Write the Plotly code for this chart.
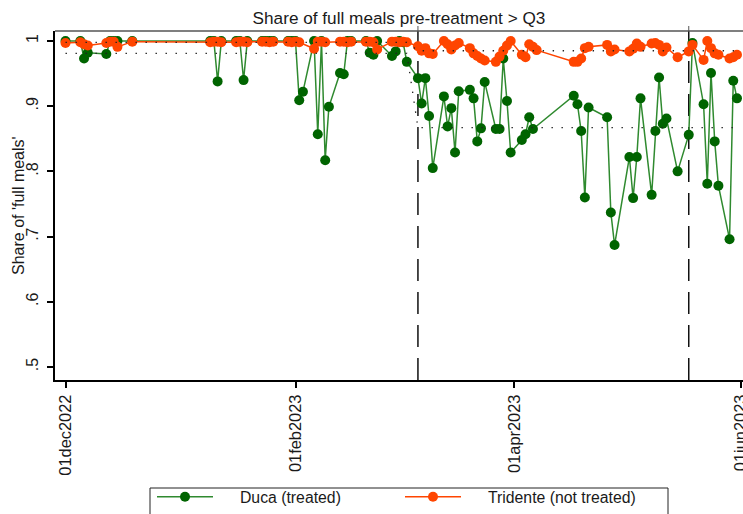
import plotly.graph_objects as go

# ---------------- data ----------------
duca_dates = [
    "2022-12-01", "2022-12-05", "2022-12-06", "2022-12-07", "2022-12-12", "2022-12-13", "2022-12-14", "2022-12-15",
    "2022-12-19", "2023-01-09", "2023-01-10", "2023-01-11", "2023-01-12", "2023-01-16", "2023-01-17", "2023-01-18",
    "2023-01-19", "2023-01-23", "2023-01-24", "2023-01-25", "2023-01-26", "2023-01-30", "2023-01-31", "2023-02-01",
    "2023-02-02", "2023-02-03", "2023-02-06", "2023-02-07", "2023-02-08", "2023-02-09", "2023-02-10", "2023-02-13",
    "2023-02-14", "2023-02-15", "2023-02-16", "2023-02-20", "2023-02-21", "2023-02-22", "2023-02-23", "2023-02-27",
    "2023-02-28", "2023-03-01", "2023-03-02", "2023-03-03",
    "2023-03-06", "2023-03-07", "2023-03-08", "2023-03-09", "2023-03-10", "2023-03-13", "2023-03-14", "2023-03-15",
    "2023-03-16", "2023-03-17", "2023-03-20", "2023-03-21", "2023-03-22", "2023-03-23", "2023-03-24", "2023-03-27",
    "2023-03-28", "2023-03-29", "2023-03-30", "2023-03-31", "2023-04-03", "2023-04-04", "2023-04-05", "2023-04-06",
    "2023-04-17", "2023-04-18", "2023-04-19", "2023-04-20", "2023-04-21", "2023-04-26", "2023-04-27", "2023-04-28",
    "2023-05-02", "2023-05-03", "2023-05-04", "2023-05-05", "2023-05-08", "2023-05-09", "2023-05-10", "2023-05-11",
    "2023-05-12", "2023-05-15", "2023-05-18", "2023-05-19", "2023-05-22", "2023-05-23", "2023-05-24", "2023-05-25",
    "2023-05-26", "2023-05-29", "2023-05-30", "2023-05-31",
]
duca_share = [
    1.000, 1.000, 0.973, 0.982, 0.980, 1.000, 1.000, 1.000,
    1.000, 1.000, 1.000, 0.938, 1.000, 1.000, 1.000, 0.940,
    1.000, 1.000, 1.000, 1.000, 1.000, 1.000, 1.000, 1.000,
    0.909, 0.922, 1.000, 0.857, 1.000, 0.817, 0.899, 0.951,
    0.949, 1.000, 1.000, 1.000, 0.982, 0.979, 1.000, 0.977,
    0.984, 1.000, 0.998, 0.968,
    0.943, 0.904, 0.943, 0.885, 0.805, 0.915, 0.869, 0.897,
    0.829, 0.923, 0.925, 0.912, 0.846, 0.866, 0.937, 0.865,
    0.865, 0.973, 0.908, 0.829, 0.848, 0.857, 0.883, 0.865,
    0.916, 0.903, 0.862, 0.760, 0.898, 0.883, 0.737, 0.687,
    0.822, 0.759, 0.822, 0.912, 0.764, 0.862, 0.944, 0.873,
    0.881, 0.800, 0.856, 0.997, 0.903, 0.781, 0.951, 0.846,
    0.778, 0.696, 0.939, 0.912,
]

tridente_dates = [
    "2022-12-01", "2022-12-05", "2022-12-06", "2022-12-07", "2022-12-12", "2022-12-13", "2022-12-14", "2022-12-15",
    "2022-12-19", "2023-01-09", "2023-01-10", "2023-01-11", "2023-01-12", "2023-01-16", "2023-01-17", "2023-01-18",
    "2023-01-19", "2023-01-23", "2023-01-24", "2023-01-25", "2023-01-26", "2023-01-30", "2023-01-31", "2023-02-01",
    "2023-02-02", "2023-02-06", "2023-02-07", "2023-02-08", "2023-02-09", "2023-02-13", "2023-02-14", "2023-02-15",
    "2023-02-16", "2023-02-20", "2023-02-21", "2023-02-22", "2023-02-23", "2023-02-27", "2023-02-28", "2023-03-01",
    "2023-03-02", "2023-03-03",
    "2023-03-06", "2023-03-07", "2023-03-08", "2023-03-09", "2023-03-10", "2023-03-13", "2023-03-14", "2023-03-15",
    "2023-03-16", "2023-03-17", "2023-03-20", "2023-03-21", "2023-03-22", "2023-03-23", "2023-03-24", "2023-03-27",
    "2023-03-28", "2023-03-29", "2023-03-30", "2023-03-31", "2023-04-03", "2023-04-04", "2023-04-05", "2023-04-06",
    "2023-04-07", "2023-04-17", "2023-04-18", "2023-04-19", "2023-04-20", "2023-04-21", "2023-04-26", "2023-04-27",
    "2023-04-28", "2023-05-02", "2023-05-03", "2023-05-04", "2023-05-05", "2023-05-08", "2023-05-09", "2023-05-10",
    "2023-05-11", "2023-05-12", "2023-05-15", "2023-05-18", "2023-05-19", "2023-05-22", "2023-05-23", "2023-05-24",
    "2023-05-25", "2023-05-26", "2023-05-29", "2023-05-30", "2023-05-31",
]
tridente_share = [
    0.997, 0.998, 0.995, 0.993, 0.997, 0.999, 0.999, 0.991,
    0.999, 0.998, 0.999, 0.999, 0.998, 0.998, 0.999, 0.999,
    0.998, 0.999, 0.999, 0.998, 0.999, 0.999, 0.998, 0.999,
    0.998, 0.988, 0.999, 0.999, 0.998, 0.999, 0.999, 0.998,
    0.999, 0.999, 0.999, 0.998, 0.987, 0.999, 0.999, 0.998,
    0.999, 0.998,
    0.992, 0.985, 0.989, 0.981, 0.980, 1.000, 0.995, 0.987,
    0.993, 0.997, 0.989, 0.981, 0.977, 0.973, 0.970, 0.968,
    0.976, 0.985, 0.993, 1.000, 0.979, 0.975, 0.995, 0.991,
    0.986, 0.968, 0.968, 0.973, 0.989, 0.991, 0.994, 0.984,
    0.987, 0.984, 0.988, 0.996, 0.991, 0.996, 0.997, 0.994,
    0.984, 0.990, 0.975, 0.984, 0.994, 0.971, 1.000, 0.989,
    0.981, 0.979, 0.973, 0.975, 0.979,
]

treatment_start = "2023-03-06"
treatment_lines = ["2023-03-06", "2023-05-18"]
duca_pre_mean, duca_post_mean = 0.981, 0.867
tridente_pre_mean, tridente_post_mean = 0.998, 0.985

x_tick_vals = ["2022-12-01", "2023-02-01", "2023-04-01", "2023-06-01"]
x_tick_text = ["01dec2022", "01feb2023", "01apr2023", "01jun2023"]
y_tick_vals = [0.5, 0.6, 0.7, 0.8, 0.9, 1.0]
y_tick_text = [".5", ".6", ".7", ".8", ".9", "1"]
x_range = ["2022-11-28 04:00", "2023-06-01 15:00"]
y_range = [0.480, 1.0153]

title_text = "Share of full meals pre-treatment > Q3"
y_title = "Share of 'full meals'"
legend_names = ["Duca (treated)", "Tridente (not treated)"]
PAD = "\u00a0" * 5  # visual gap between legend key and its label

FONT = "Liberation Sans, Arial, sans-serif"
GREEN_M, GREEN_L = "#006400", "#2f8a2f"
ORANGE = "#ff4500"
TXT = "#1a1a1a"

# plot-area geometry (pixels) used only for placing layout furniture
L, T, B, W, H = 55, 31, 134, 743, 514
PW, PH = W - L, H - T - B

duca_mean = [duca_pre_mean if d < treatment_start else duca_post_mean for d in duca_dates]
tridente_mean = [tridente_pre_mean if d < treatment_start else tridente_post_mean for d in tridente_dates]

fig = go.Figure()
fig.add_trace(go.Scatter(
    x=duca_dates, y=duca_share, mode="lines+markers", name=PAD + legend_names[0],
    line=dict(color=GREEN_L, width=1.5),
    marker=dict(color=GREEN_M, size=10, line=dict(width=0)),
))
fig.add_trace(go.Scatter(
    x=tridente_dates, y=tridente_share, mode="lines+markers", name=PAD + legend_names[1],
    line=dict(color=ORANGE, width=1.5),
    marker=dict(color=ORANGE, size=10, line=dict(width=0)),
))
for dts, mv in ((duca_dates, duca_mean), (tridente_dates, tridente_mean)):
    fig.add_trace(go.Scatter(
        x=dts, y=mv, mode="lines", showlegend=False, hoverinfo="skip",
        line=dict(color="#222222", width=1.3, dash="1.4px,8.6px"),
    ))

shapes = []
for d in treatment_lines:
    shapes.append(dict(type="line", xref="x", yref="paper", x0=d, x1=d, y0=0, y1=1,
                       line=dict(color="#111111", width=1.5, dash="22px,11px"), layer="below"))
    shapes.append(dict(type="line", xref="x", yref="paper", x0=d, x1=d,
                       ysizemode="pixel", yanchor=1, y0=0, y1=5,
                       line=dict(color="#555555", width=1)))
shapes.append(dict(type="line", xref="paper", yref="paper", x0=0, x1=1, y0=1, y1=1,
                   line=dict(color="#555555", width=1.6)))
# legend frame
shapes.append(dict(type="rect", xref="paper", yref="paper",
                   x0=(150 - L) / PW, x1=(668 - L) / PW,
                   y0=-(522 - (T + PH)) / PH, y1=-(488 - (T + PH)) / PH,
                   line=dict(color="#222222", width=1), fillcolor="rgba(0,0,0,0)"))

fig.update_layout(
    width=W, height=H,
    margin=dict(l=L, r=0, t=T, b=B, autoexpand=False),
    paper_bgcolor="white", plot_bgcolor="white",
    font=dict(family=FONT, size=16, color=TXT),
    title=dict(text=title_text, x=0.5, xref="paper", y=1 - 18 / H, yref="container",
               xanchor="center", yanchor="middle", font=dict(size=17.2, color=TXT)),
    xaxis=dict(type="date", range=x_range, tickvals=x_tick_vals, ticktext=x_tick_text,
               tickangle=-90, showgrid=False, zeroline=False, showline=True, linecolor="black",
               linewidth=2, ticks="outside", ticklen=6, tickwidth=1.5, tickcolor="black",
               tickfont=dict(size=16.4), automargin=False, ticklabeloverflow="allow"),
    yaxis=dict(range=y_range, tickvals=y_tick_vals, ticktext=y_tick_text, tickangle=-90,
               showgrid=False, zeroline=False, showline=True, linecolor="black", linewidth=2,
               ticks="outside", ticklen=6, tickwidth=1.5, tickcolor="black",
               tickfont=dict(size=16), automargin=False, ticklabelstandoff=3),
    annotations=[dict(text=y_title, xref="paper", yref="paper", x=(18.5 - L) / PW, y=0.5,
                      xanchor="center", yanchor="middle", textangle=-90, showarrow=False,
                      font=dict(size=16, color=TXT))],
    legend=dict(orientation="h", xref="container", yref="container",
                x=152 / W, y=0, xanchor="left", yanchor="bottom",
                borderwidth=0, bgcolor="rgba(0,0,0,0)",
                font=dict(size=15.8), itemwidth=56, entrywidth=177, entrywidthmode="pixels"),
    shapes=shapes,
    showlegend=True,
)

fig.write_html("out.html", config={"displayModeBar": False})
